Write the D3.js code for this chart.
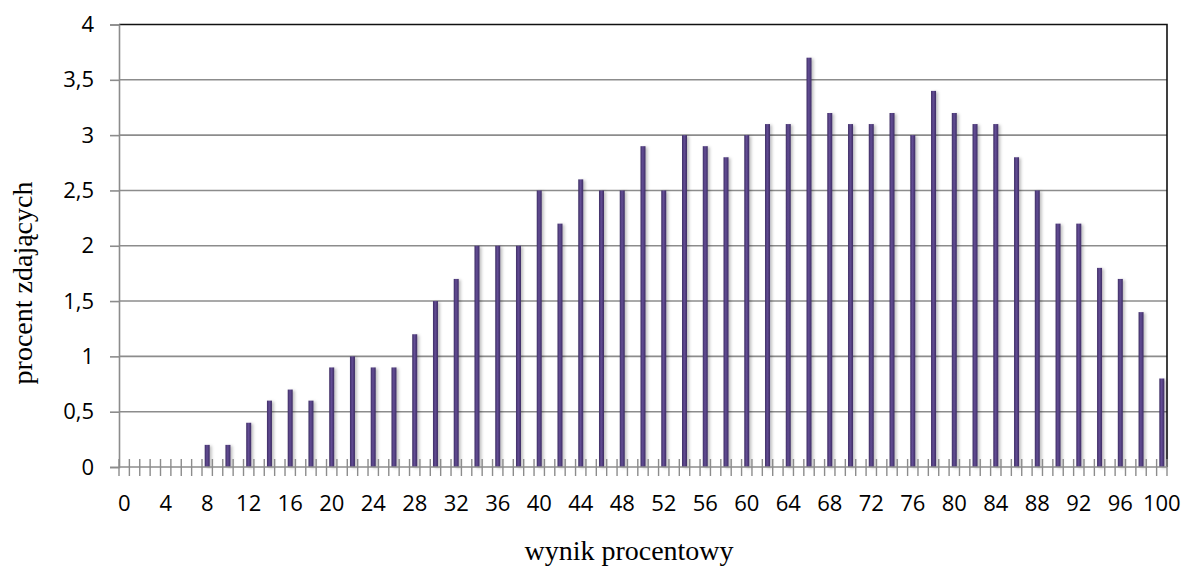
<!DOCTYPE html>
<html>
<head>
<meta charset="utf-8">
<script src="https://cdn.jsdelivr.net/npm/d3@7"></script>
<style>
  body { margin: 0; background: #fff; }
  svg { display: block; }
</style>
</head>
<body>
<div id="chart"></div>
<script>
// wynik procentowy (co 1 pkt na osi, słupki tylko dla parzystych)
const scores = d3.range(0, 101);
const barScores = [0, 2, 4, 6, 8, 10, 12, 14, 16, 18, 20, 22, 24, 26, 28, 30, 32, 34, 36, 38, 40,
  42, 44, 46, 48, 50, 52, 54, 56, 58, 60, 62, 64, 66, 68, 70, 72, 74, 76, 78, 80,
  82, 84, 86, 88, 90, 92, 94, 96, 98, 100];
const percents = [0, 0, 0, 0, 0.2, 0.2, 0.4, 0.6, 0.7, 0.6, 0.9, 1.0, 0.9, 0.9, 1.2, 1.5, 1.7, 2.0, 2.0, 2.0, 2.5,
  2.2, 2.6, 2.5, 2.5, 2.9, 2.5, 3.0, 2.9, 2.8, 3.0, 3.1, 3.1, 3.7, 3.2, 3.1, 3.1, 3.2, 3.0, 3.4, 3.2,
  3.1, 3.1, 2.8, 2.5, 2.2, 2.2, 1.8, 1.7, 1.4, 0.8];
const xLabels = [0, 4, 8, 12, 16, 20, 24, 28, 32, 36, 40, 44, 48, 52, 56, 60, 64, 68, 72, 76, 80, 84, 88, 92, 96, 100];
const yTicks = [0, 0.5, 1, 1.5, 2, 2.5, 3, 3.5, 4];

const W = 1187, H = 570;
const plotL = 119, plotR = 1167, plotT = 24.5, plotB = 467;
const tickFont = "'Open Sans', sans-serif";
const titleFont = "'Liberation Serif', 'Times New Roman', serif";

const svg = d3.select('#chart').append('svg')
  .attr('width', W)
  .attr('height', H);

const defs = svg.append('defs');
const grad = defs.append('linearGradient').attr('id', 'barGrad')
  .attr('x1', '0%').attr('x2', '100%').attr('y1', '0%').attr('y2', '0%');
grad.append('stop').attr('offset', '0%').attr('stop-color', '#3d2d63');
grad.append('stop').attr('offset', '45%').attr('stop-color', '#634d95');
grad.append('stop').attr('offset', '100%').attr('stop-color', '#3d2d63');

const shadow = defs.append('filter').attr('id', 'shadow')
  .attr('x', '-100%').attr('y', '-5%').attr('width', '400%').attr('height', '110%');
shadow.append('feDropShadow')
  .attr('dx', 2).attr('dy', 1).attr('stdDeviation', 1.5)
  .attr('flood-color', '#000').attr('flood-opacity', 0.25);

const x = d3.scaleBand()
  .domain(scores)
  .range([plotL, plotR])
  .paddingInner(0)
  .paddingOuter(0);

const y = d3.scaleLinear()
  .domain([0, 4])
  .range([plotB, plotT]);

// gridlines
svg.append('g')
  .selectAll('line')
  .data(yTicks.filter(d => d > 0 && d < 4))
  .join('line')
  .attr('x1', plotL).attr('x2', plotR)
  .attr('y1', d => y(d)).attr('y2', d => y(d))
  .attr('stroke', '#8c8c8c')
  .attr('stroke-width', 1.6);

// plot area border (top/right dark)
svg.append('path')
  .attr('d', `M${plotL},${plotT}H${plotR}V${plotB}`)
  .attr('fill', 'none')
  .attr('stroke', '#111')
  .attr('stroke-width', 1.6);

// bars
const barW = 5;
svg.append('g')
  .selectAll('rect')
  .data(barScores.map((s, i) => ({ s, v: percents[i] })).filter(d => d.v > 0))
  .join('rect')
  .attr('x', d => x(d.s) + x.bandwidth() / 2 - barW / 2)
  .attr('width', barW)
  .attr('y', d => y(d.v))
  .attr('height', d => y(0) - y(d.v))
  .attr('fill', 'url(#barGrad)')
  .attr('filter', 'url(#shadow)');

// y axis
const yAxis = svg.append('g')
  .attr('transform', `translate(${plotL},0)`)
  .call(d3.axisLeft(y).tickValues(yTicks).tickSize(9).tickPadding(16)
    .tickFormat(d => String(d).replace('.', ',')));
yAxis.select('.domain').attr('stroke', '#8c8c8c').attr('stroke-width', 1.6);
yAxis.selectAll('.tick line').attr('stroke', '#8c8c8c').attr('stroke-width', 1.6);
yAxis.selectAll('.tick text')
  .attr('font-family', tickFont)
  .attr('font-size', 22)
  .attr('fill', '#000');

// x axis: ticks at band edges, crossing the axis line
const xg = svg.append('g');
xg.append('line')
  .attr('x1', plotL).attr('x2', plotR)
  .attr('y1', y(0)).attr('y2', y(0))
  .attr('stroke', '#8c8c8c').attr('stroke-width', 1.6);
xg.selectAll('line.tk')
  .data(scores.concat([101]))
  .join('line')
  .attr('class', 'tk')
  .attr('x1', d => d <= 100 ? x(d) : plotR)
  .attr('x2', d => d <= 100 ? x(d) : plotR)
  .attr('y1', y(0) - 8).attr('y2', y(0) + 9)
  .attr('stroke', '#8c8c8c').attr('stroke-width', 1.4);
xg.selectAll('text')
  .data(xLabels)
  .join('text')
  .attr('x', d => x(d) + x.bandwidth() / 2)
  .attr('y', 511)
  .attr('text-anchor', 'middle')
  .attr('font-family', tickFont)
  .attr('font-size', 22)
  .attr('fill', '#000')
  .text(d => d);

// axis titles
svg.append('text')
  .attr('x', 629)
  .attr('y', 560)
  .attr('text-anchor', 'middle')
  .attr('font-family', titleFont)
  .attr('font-size', 28)
  .text('wynik procentowy');

svg.append('text')
  .attr('transform', 'translate(32,283) rotate(-90)')
  .attr('text-anchor', 'middle')
  .attr('font-family', titleFont)
  .attr('font-size', 28)
  .text('procent zdających');
</script>
</body>
</html>
